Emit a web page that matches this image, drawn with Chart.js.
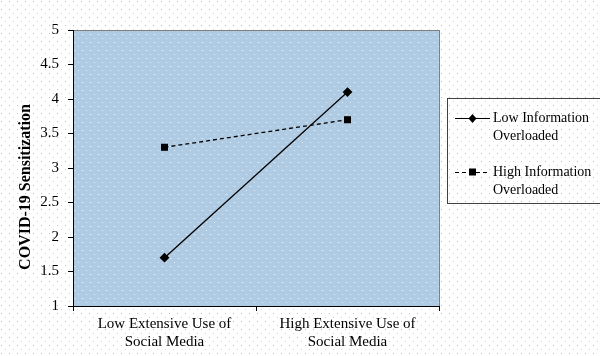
<!DOCTYPE html>
<html>
<head>
<meta charset="utf-8">
<script src="https://cdn.jsdelivr.net/npm/chart.js@4/dist/chart.umd.min.js"></script>
<style>
html,body{margin:0;padding:0;background:#fff;}
#wrap{width:600px;height:356px;position:relative;}
</style>
</head>
<body>
<div id="wrap"><canvas id="c" width="600" height="356"></canvas></div>
<script>
const categories = [["Low Extensive Use of","Social Media"],["High Extensive Use of","Social Media"]];
const lowInfo = [1.7, 4.1];
const highInfo = [3.3, 3.7];
const seriesNames = [["Low Information","Overloaded"],["High Information","Overloaded"]];
const yTitle = "COVID-19 Sensitization";
const yMin = 1, yMax = 5, yStep = 0.5;

const FONT = "'Liberation Serif', 'Times New Roman', serif";

function makePattern(ctx, w, h, base, dots){
  const c = document.createElement('canvas'); c.width = w; c.height = h;
  const g = c.getContext('2d');
  if (base){ g.fillStyle = base; g.fillRect(0,0,w,h); }
  dots.forEach(d => { g.fillStyle = d[2]; g.fillRect(d[0], d[1], d[3]||1, d[4]||1); });
  return ctx.createPattern(c, 'repeat');
}

const bgPlugin = {
  id: 'bg',
  beforeDraw(chart){
    const ctx = chart.ctx, a = chart.chartArea;
    ctx.save();
    ctx.fillStyle = '#fff'; ctx.fillRect(0,0,chart.width,chart.height);
    ctx.fillStyle = makePattern(ctx, 8, 8, null, [[1,1,'#a9c6e0'],[5,5,'#c4d8ea']]);
    ctx.fillRect(0,0,chart.width,chart.height);
    ctx.fillStyle = makePattern(ctx, 8, 8, '#afcbe3', [[2,2,'#d8e6f2'],[6,6,'#e3edf6'],[1,2,'#c6daec'],[3,2,'#c6daec']]);
    ctx.fillRect(a.left, a.top, a.right-a.left, a.bottom-a.top);
    ctx.strokeStyle = '#808080'; ctx.lineWidth = 1;
    ctx.strokeRect(a.left+0.5, a.top+0.5, a.right-a.left, a.bottom-a.top);
    ctx.restore();
  },
  afterDraw(chart){
    const ctx = chart.ctx;
    ctx.save();
    // y axis title
    ctx.save();
    ctx.translate(26, 187);
    ctx.rotate(-Math.PI/2);
    ctx.font = 'bold 16px ' + FONT; ctx.fillStyle = '#000';
    ctx.textAlign = 'center'; ctx.textBaseline = 'middle';
    ctx.fillText(yTitle, 0, 0);
    ctx.restore();
    // legend box
    const lx = 447, ly = 98, lh = 105;
    ctx.strokeStyle = '#404040'; ctx.lineWidth = 1;
    ctx.strokeRect(lx+0.5, ly+0.5, 170, lh);
    const rows = [118, 172];
    chart.data.datasets.forEach((ds, i) => {
      const y = rows[i];
      ctx.strokeStyle = '#000'; ctx.lineWidth = 1.2;
      ctx.setLineDash(ds.borderDash || []);
      ctx.beginPath(); ctx.moveTo(455, y+0.5); ctx.lineTo(490, y+0.5); ctx.stroke();
      ctx.setLineDash([]);
      ctx.fillStyle = '#000';
      if (ds.pointStyle === 'rect'){ ctx.fillRect(469, y-3.5, 7, 7); }
      else { ctx.beginPath(); ctx.moveTo(472.5,y-4); ctx.lineTo(476.5,y+0.5); ctx.lineTo(472.5,y+5); ctx.lineTo(468.5,y+0.5); ctx.closePath(); ctx.fill(); }
      ctx.font = '14px ' + FONT; ctx.textBaseline = 'middle'; ctx.textAlign = 'left';
      ctx.fillText(seriesNames[i][0], 493, y);
      ctx.fillText(seriesNames[i][1], 493, y+18);
    });
    ctx.restore();
  }
};

new Chart(document.getElementById('c'), {
  type: 'line',
  data: {
    labels: categories,
    datasets: [
      { label: seriesNames[0].join(' '), data: lowInfo, borderColor: '#000', backgroundColor: '#000', borderWidth: 1.3,
        pointStyle: 'rectRot', pointRadius: 4, pointHoverRadius: 4, fill: false, tension: 0 },
      { label: seriesNames[1].join(' '), data: highInfo, borderColor: '#000', backgroundColor: '#000', borderWidth: 1.3,
        borderDash: [4,3], pointStyle: 'rect', pointRadius: 4, pointHoverRadius: 4, fill: false, tension: 0 }
    ]
  },
  options: {
    responsive: false, animation: false,
    layout: { padding: { top: 30, right: 161, left: 0, bottom: 0 } },
    plugins: { legend: { display: false }, tooltip: { enabled: false } },
    scales: {
      x: {
        offset: true,
        grid: { display: true, drawOnChartArea: false, offset: true, tickLength: 5, color: '#000' },
        border: { display: true, color: '#000' },
        ticks: { color: '#000', font: { family: FONT, size: 15 }, padding: 4, maxRotation: 0 },
        afterFit(s){ s.height = 50; }
      },
      y: {
        min: yMin, max: yMax,
        grid: { display: true, drawOnChartArea: false, tickLength: 5, color: '#000' },
        border: { display: true, color: '#000' },
        ticks: { stepSize: yStep, color: '#000', font: { family: FONT, size: 15 }, padding: 9,
          callback: v => String(v) },
        title: { display: false },
        afterFit(s){ s.width = 73; }
      }
    }
  },
  plugins: [bgPlugin]
});
</script>
</body>
</html>
